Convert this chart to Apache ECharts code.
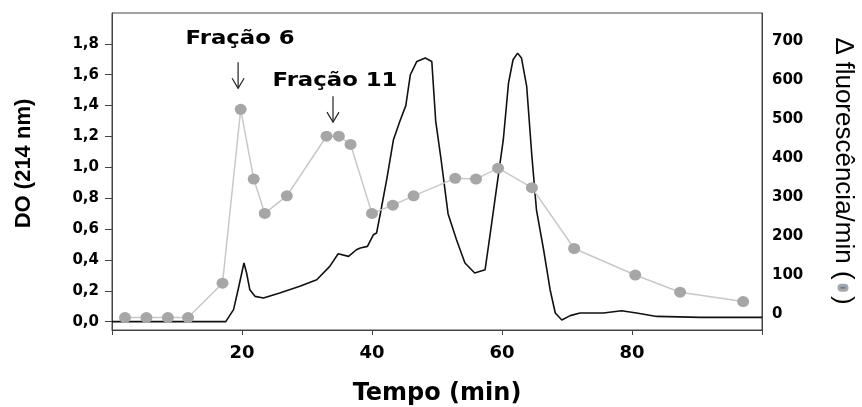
<!DOCTYPE html>
<html>
<head>
<meta charset="utf-8">
<script src="https://cdn.jsdelivr.net/npm/echarts@6/dist/echarts.min.js"></script>
<style>
  html, body { margin: 0; padding: 0; background: #fff; }
  #chart { width: 862px; height: 407px; }
</style>
</head>
<body>
<div id="chart"></div>
<script>
// absorbância (DO 214 nm) - traço preto, eixo esquerdo
const tempoDO = [0, 17.5, 18.7, 19.4, 20.3, 20.7, 21.2, 22.0, 23.3, 25.8, 28.9, 31.5, 33.5, 34.8, 36.4, 37.6,
  38.2, 39.3, 40.2, 40.7, 41.3, 42.3, 43.3, 44.3, 45.2, 45.9, 46.9, 48.2, 49.2, 49.8, 50.6, 51.7, 53.0,
  54.3, 55.8, 57.4, 58.2, 59.2, 60.2, 61.0, 61.7, 62.4, 63.0, 63.8, 64.6, 65.3, 66.4, 67.4, 68.2, 69.2,
  70.5, 72.0, 75.6, 78.4, 80.7, 83.8, 90.5, 100];
const valoresDO = [0, 0, 0.078, 0.207, 0.38, 0.317, 0.207, 0.164, 0.153, 0.186, 0.229, 0.272, 0.358, 0.44, 0.423, 0.466,
  0.477, 0.488, 0.563, 0.574, 0.704, 0.93, 1.179, 1.30, 1.40, 1.60, 1.686, 1.708, 1.686, 1.30, 1.06, 0.70, 0.531,
  0.38, 0.315, 0.337, 0.574, 0.876, 1.179, 1.546, 1.697, 1.74, 1.708, 1.524, 1.071, 0.725, 0.466, 0.207, 0.056, 0.011,
  0.039, 0.056, 0.056, 0.071, 0.056, 0.034, 0.028, 0.028];

// fluorescência - pontos cinzas, eixo direito
const tempoFluo = [2.0, 5.3, 8.6, 11.7, 17.0, 19.8, 21.8, 23.5, 26.9, 33.0, 34.9, 36.7, 40.0, 43.2, 46.4,
  52.8, 56.0, 59.4, 64.6, 71.1, 80.5, 87.4, 97.1];
const valoresFluo = [-9, -9, -9, -9, 79, 525, 346, 258, 303, 456, 456, 435, 258, 279, 303,
  348, 346, 374, 324, 168, 100, 56, 32];

const ticksDO = [0, 0.2, 0.4, 0.6, 0.8, 1.0, 1.2, 1.4, 1.6, 1.8];
const ticksFluo = [0, 100, 200, 300, 400, 500, 600, 700];
const ticksTempo = [20, 40, 60, 80];

// anotações: ponta da seta e centro do texto em [tempo, fluorescência]
const anotacoes = [
  { texto: 'Fração 6', x: 19.4, y: 579, textoY: 705 },
  { texto: 'Fração 11', x: 34.0, y: 492, textoY: 597 }
];

const fonte = "'Liberation Sans', Arial, sans-serif";
const fonteLarga = "'DejaVu Sans', 'Liberation Sans', sans-serif";
const chart = echarts.init(document.getElementById('chart'));

const option = {
  animation: false,
  backgroundColor: '#fff',
  grid: {
    left: 112, right: 100, top: 13, bottom: 77,
    outerBoundsMode: 'none',
    show: true, borderColor: '#444', borderWidth: 1
  },
  xAxis: {
    type: 'value',
    min: 0, max: 100, interval: 20,
    name: 'Tempo (min)',
    nameLocation: 'middle',
    nameGap: 52,
    nameTextStyle: { fontFamily: fonteLarga, fontSize: 24, fontWeight: 'bold', color: '#000' },
    axisLine: { onZero: false, lineStyle: { color: '#444', width: 1 } },
    axisTick: { show: true, length: 5, inside: false, lineStyle: { color: '#444' } },
    axisLabel: {
      customValues: ticksTempo,
      margin: 14,
      fontFamily: fonteLarga, fontSize: 18, fontWeight: 'bold', color: '#000'
    },
    splitLine: { show: false }
  },
  yAxis: [
    {
      type: 'value',
      min: -0.054, max: 2.0,
      position: 'left',
      name: 'DO (214 nm)',
      nameLocation: 'middle',
      nameRotate: 90,
      nameGap: 77,
      nameTextStyle: { fontFamily: fonte, fontSize: 22, fontWeight: 'bold', color: '#000', padding: [0, 0, 0, 16] },
      axisLine: { show: true, lineStyle: { color: '#444', width: 1 } },
      axisTick: { show: true, length: 7, customValues: ticksDO, lineStyle: { color: '#444' } },
      axisLabel: {
        customValues: ticksDO,
        margin: 13,
        fontFamily: fonteLarga, fontSize: 15, fontWeight: 'bold', color: '#000',
        formatter: v => v.toFixed(1).replace('.', ',')
      },
      splitLine: { show: false }
    },
    {
      type: 'value',
      min: -41, max: 772,
      position: 'right',
      name: '{t|∆ fluorescência/min ( }{m|}{t| )}',
      nameLocation: 'middle',
      nameRotate: -90,
      nameGap: 68,
      nameTextStyle: {
        rich: {
          t: { fontFamily: fonte, fontSize: 26, color: '#000' },
          m: { width: 2, height: 5, backgroundColor: '#4f81bd', borderColor: '#a6a6a6', borderWidth: 3, borderRadius: 6 }
        }
      },
      axisLine: { show: true, lineStyle: { color: '#444', width: 1 } },
      axisTick: { show: false },
      axisLabel: {
        customValues: ticksFluo,
        margin: 10,
        fontFamily: fonteLarga, fontSize: 15, fontWeight: 'bold', color: '#000'
      },
      splitLine: { show: false }
    }
  ],
  series: [
    {
      name: 'DO',
      type: 'line',
      yAxisIndex: 0,
      data: tempoDO.map((t, i) => [t, valoresDO[i]]),
      showSymbol: false,
      symbol: 'none',
      lineStyle: { color: '#111', width: 1.6 },
      z: 2
    },
    {
      name: 'Fluorescência',
      type: 'line',
      yAxisIndex: 1,
      data: tempoFluo.map((t, i) => [t, valoresFluo[i]]),
      symbol: 'circle',
      symbolSize: [12, 11],
      itemStyle: { color: '#a6a6a6' },
      lineStyle: { color: '#c8c8c8', width: 1.5 },
      z: 3
    }
  ]
};

chart.setOption(option);

// setas e textos das frações
const graficos = [];
anotacoes.forEach(a => {
  const p = chart.convertToPixel({ xAxisIndex: 0, yAxisIndex: 1 }, [a.x, a.y]);
  const pt = chart.convertToPixel({ xAxisIndex: 0, yAxisIndex: 1 }, [a.x, a.textoY]);
  const topo = p[1] - 26;
  graficos.push({
    type: 'line',
    shape: { x1: p[0], y1: topo, x2: p[0], y2: p[1] },
    style: { stroke: '#222', lineWidth: 1.2 }
  });
  graficos.push({
    type: 'polyline',
    shape: { points: [[p[0] - 6, p[1] - 10], [p[0], p[1]], [p[0] + 6, p[1] - 10]] },
    style: { stroke: '#222', lineWidth: 1.2, fill: null }
  });
  graficos.push({
    type: 'text',
    x: pt[0] + 2, y: pt[1],
    scaleX: 1.2,
    style: {
      text: a.texto,
      fontFamily: fonteLarga, fontSize: 19, fontWeight: 'bold', fill: '#000',
      align: 'center', verticalAlign: 'middle'
    }
  });
});
chart.setOption({ graphic: graficos });
</script>
</body>
</html>
